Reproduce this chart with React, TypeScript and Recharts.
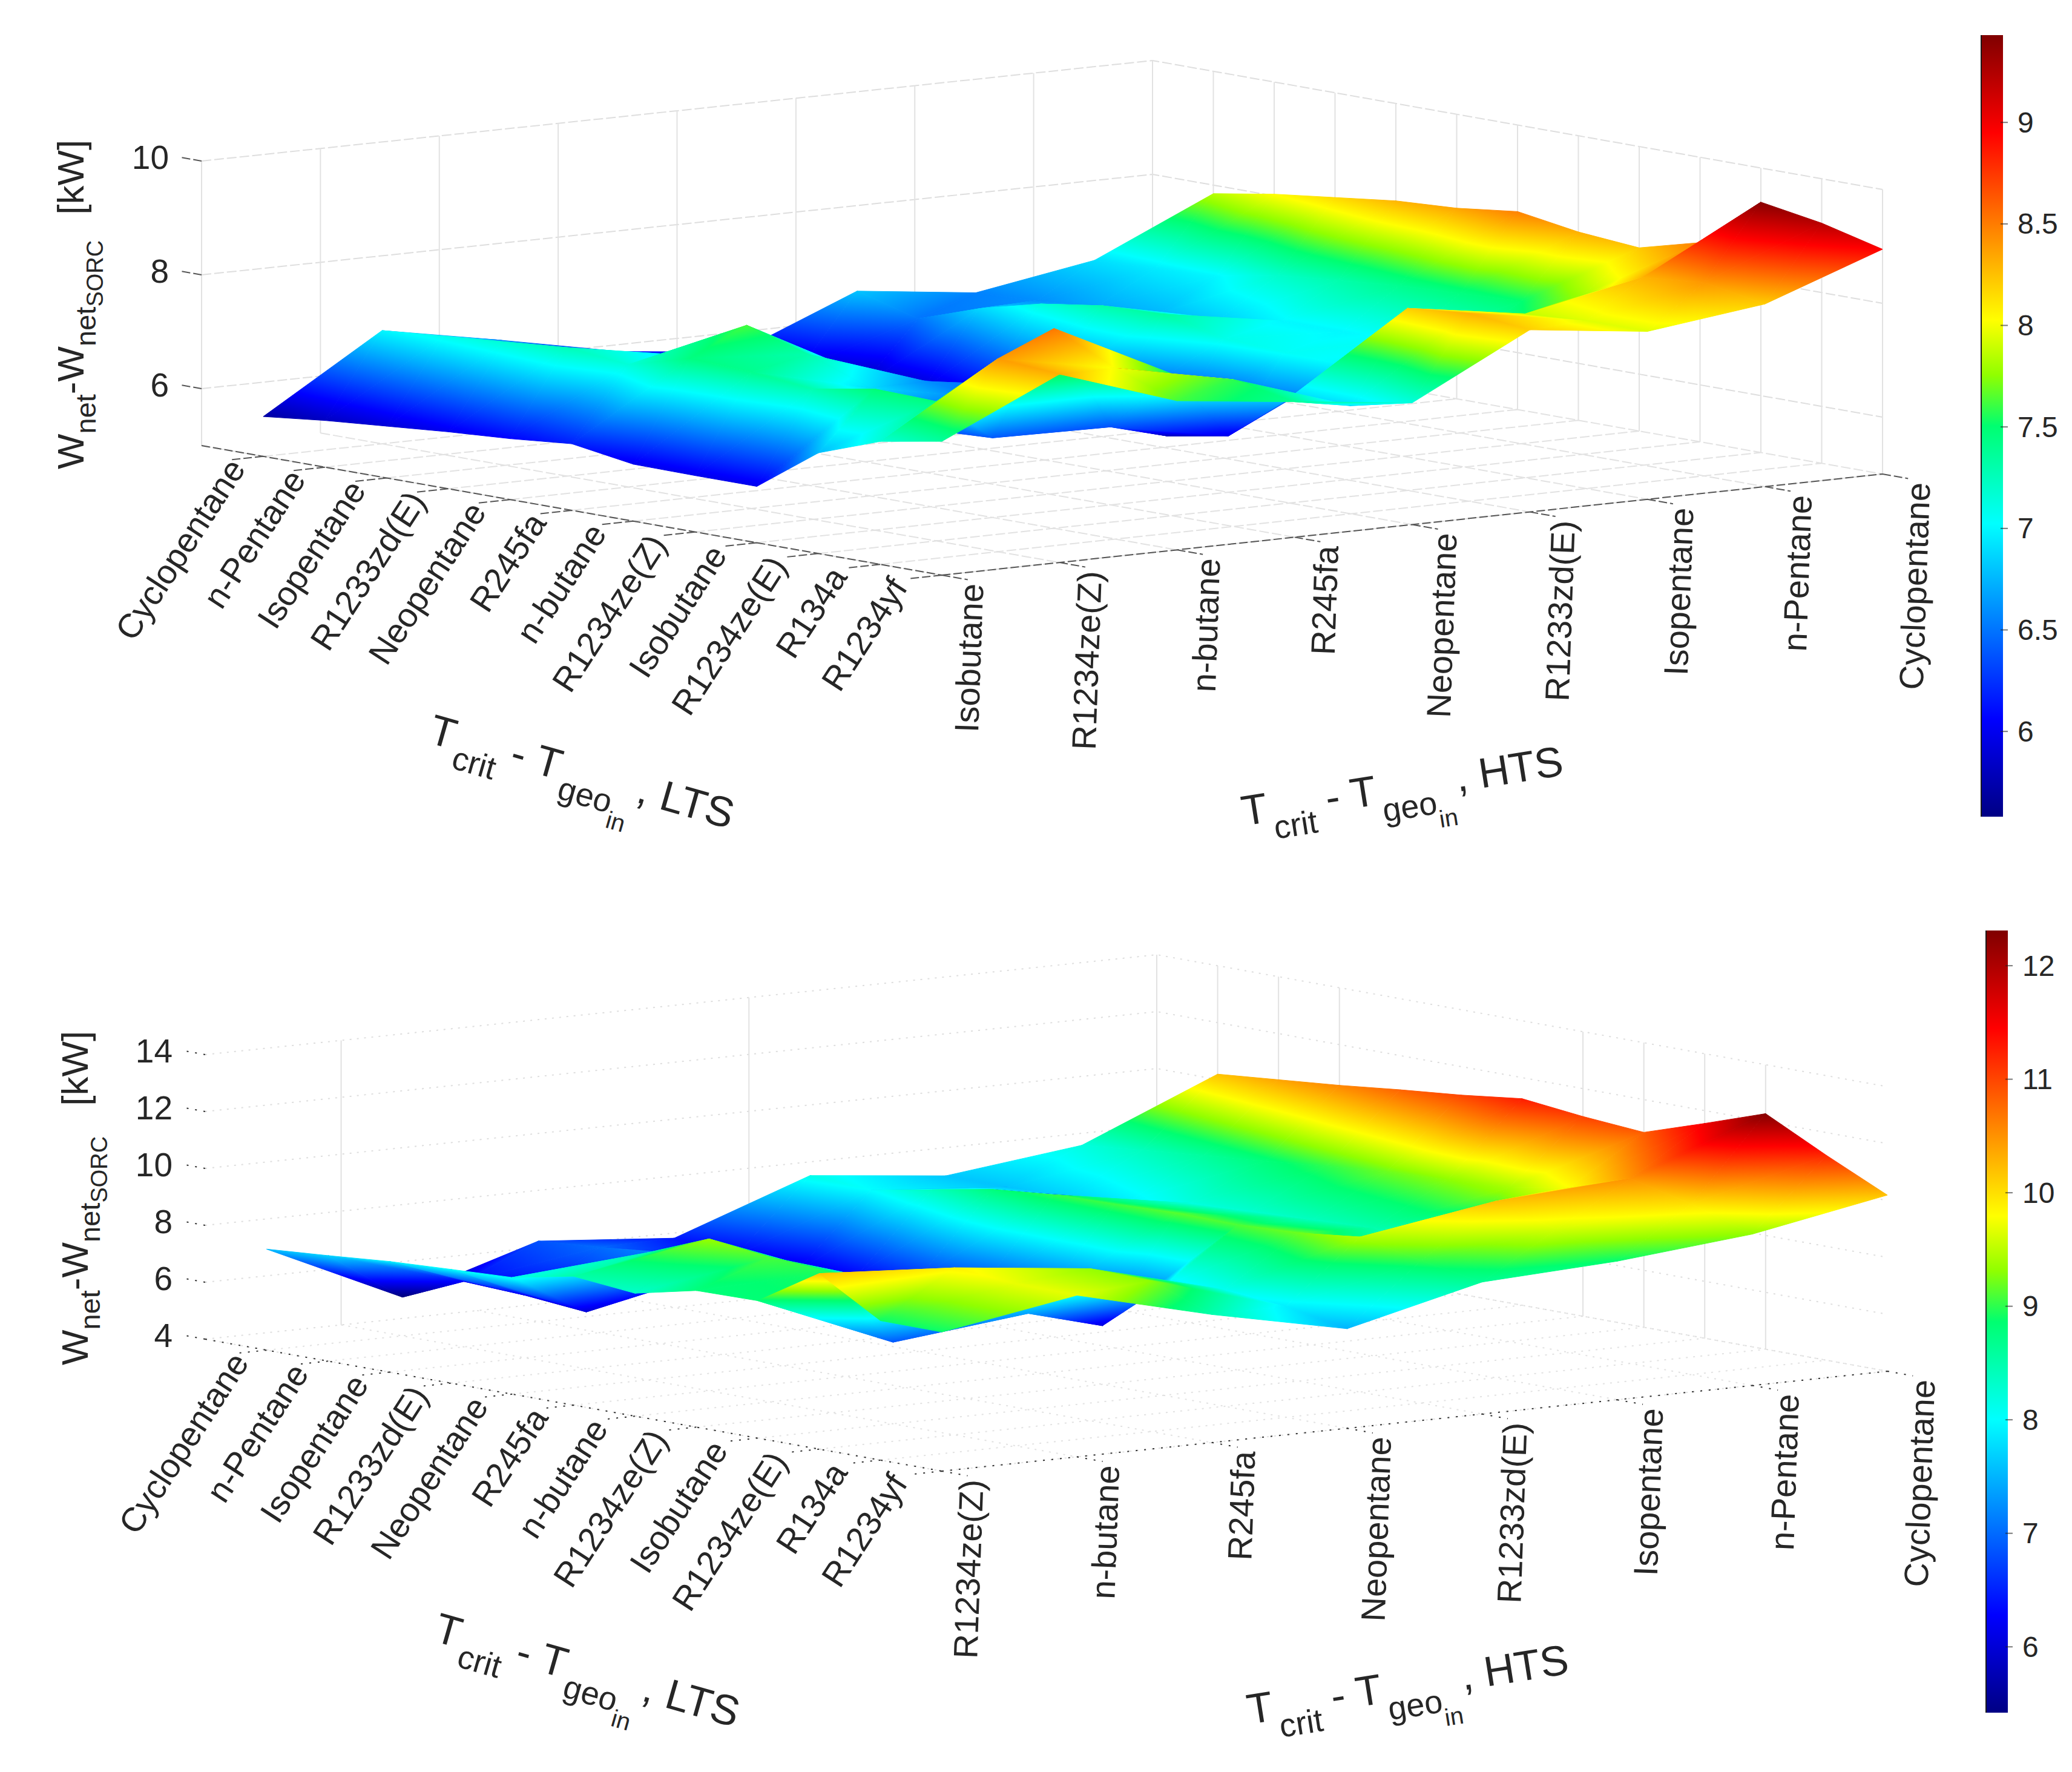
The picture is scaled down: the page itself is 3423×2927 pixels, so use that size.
import { ComposedChart, Scatter, Line, Bar, XAxis, YAxis } from "recharts";

const PAGE_W = 3423;
const PAGE_H = 2927;

const ltsFluids = ["Cyclopentane", "n-Pentane", "Isopentane", "R1233zd(E)", "Neopentane", "R245fa", "n-butane", "R1234ze(Z)", "Isobutane", "R1234ze(E)", "R134a", "R1234yf"];
const htsFluidsTop = ["Isobutane", "R1234ze(Z)", "n-butane", "R245fa", "Neopentane", "R1233zd(E)", "Isopentane", "n-Pentane", "Cyclopentane"];
const htsFluidsBottom = ["R1234ze(Z)", "n-butane", "R245fa", "Neopentane", "R1233zd(E)", "Isopentane", "n-Pentane", "Cyclopentane"];

// rows follow ltsFluids, columns follow the hts list, values in kW
const gainTop = [
  [5.7, 6.99, 6.6, 6.18, 5.95, 6.8, 6.55, 6.9, 7.85],
  [5.82, 7.08, 6.55, 6.24, 5.85, 6.5, 6.6, 6.95, 8.03],
  [5.91, 7.17, 6.5, 6.4, 5.72, 6.87, 6.7, 7.0, 8.16],
  [6.0, 7.26, 6.9, 6.75, 5.85, 7.14, 6.75, 7.2, 8.29],
  [6.07, 7.15, 7.62, 6.53, 6.1, 7.3, 6.85, 7.3, 8.35],
  [6.17, 7.45, 7.3, 6.6, 6.3, 7.34, 7.0, 7.4, 8.48],
  [6.0, 7.4, 6.9, 6.5, 6.0, 7.1, 7.0, 7.45, 8.31],
  [5.99, 7.29, 6.35, 6.38, 5.8, 7.05, 7.05, 7.5, 8.22],
  [5.99, 7.48, 6.4, 6.37, 5.99, 7.0, 7.2, 7.8, 8.5],
  [6.77, 7.45, 8.51, 7.49, 6.85, 8.2, 7.88, 8.3, 9.4],
  [7.16, 8.39, 8.0, 7.58, 6.9, 8.3, 7.95, 8.4, 9.22],
  [7.35, 8.31, 7.62, 7.38, 7.14, 8.2, 7.95, 8.21, 8.95],
];

const gainBottom = [
  [7.55, 5.36, 6.83, 6.43, 8.13, 7.62, 8.19, 10.19],
  [7.71, 6.3, 7.0, 6.2, 8.0, 7.6, 8.4, 10.38],
  [7.89, 6.2, 7.2, 6.04, 8.4, 7.7, 8.6, 10.57],
  [8.0, 6.0, 7.0, 6.3, 8.8, 7.9, 8.8, 10.8],
  [8.1, 8.47, 7.3, 6.6, 9.0, 8.2, 9.0, 11.0],
  [8.53, 9.34, 7.5, 6.6, 9.05, 8.3, 9.2, 11.26],
  [8.32, 9.08, 7.6, 6.6, 9.13, 8.4, 9.3, 11.02],
  [8.8, 8.94, 7.8, 6.06, 9.1, 8.5, 9.4, 10.85],
  [8.83, 6.87, 7.38, 7.85, 9.2, 8.2, 9.8, 11.55],
  [10.17, 9.87, 9.34, 8.1, 9.45, 10.2, 10.5, 12.28],
  [8.9, 9.7, 9.3, 7.9, 9.0, 9.6, 10.0, 11.2],
  [8.89, 9.68, 8.5, 7.5, 8.64, 8.87, 9.32, 10.19],
];

const zTicksTop = [6, 8, 10];
const zTicksBottom = [4, 6, 8, 10, 12, 14];
const barTicksTop = [6, 6.5, 7, 7.5, 8, 8.5, 9];
const barTicksBottom = [6, 7, 8, 9, 10, 11, 12];

const jetStops = [
  [0, "#000084"],
  [0.125, "#0000ff"],
  [0.375, "#00ffff"],
  [0.5, "#00ff70"],
  [0.565, "#90ff00"],
  [0.635, "#ffff00"],
  [0.875, "#ff0000"],
  [1, "#800000"],
] as const;

function jetColor(t: number) {
  const c = Math.max(0, Math.min(1, t));
  for (let k = 1; k < jetStops.length; k++) {
    if (c <= jetStops[k][0]) {
      const f = (c - jetStops[k - 1][0]) / (jetStops[k][0] - jetStops[k - 1][0]);
      const a = jetStops[k - 1][1];
      const b = jetStops[k][1];
      const mix = (s: number) => Math.round(parseInt(a.slice(s, s + 2), 16) * (1 - f) + parseInt(b.slice(s, s + 2), 16) * f);
      return `rgb(${mix(1)},${mix(3)},${mix(5)})`;
    }
  }
  return jetStops[jetStops.length - 1][1];
}

const FONT = "'Liberation Sans', Arial, sans-serif";
const INK = "#262626";

type Pt = { x: number; y: number };
type Box = { L: Pt; F: Pt; R: Pt; B: Pt; zMin: number; zMax: number; kz: number };

const boxTop: Box = { L: { x: 333, y: 736 }, F: { x: 1556, y: 950 }, R: { x: 3110, y: 783 }, B: { x: 1904, y: 570 }, zMin: 5, zMax: 10, kz: 94 };
const boxBottom: Box = { L: { x: 339, y: 2212 }, F: { x: 1556, y: 2430 }, R: { x: 3118, y: 2265 }, B: { x: 1911, y: 2047 }, zMin: 4, zMax: 14, kz: 47 };

// the 3D box is flattened by hand, the chart axes then work in page pixels
function project(b: Box, u: number, v: number, z: number): Pt {
  const w = [(1 - u) * (1 - v), u * (1 - v), u * v, (1 - u) * v];
  return {
    x: w[0] * b.L.x + w[1] * b.F.x + w[2] * b.R.x + w[3] * b.B.x,
    y: w[0] * b.L.y + w[1] * b.F.y + w[2] * b.R.y + w[3] * b.B.y - (z - b.zMin) * b.kz,
  };
}

function buildCells(b: Box, rows: number[][]) {
  const nI = rows.length;
  const nJ = rows[0].length;
  const at = (i: number, j: number) => ({
    ...project(b, (i + 1) / nI, j / (nJ - 1), rows[i][j]),
    z: rows[i][j],
  });
  const cells = [];
  for (let i = 0; i < nI - 1; i++) {
    for (let j = nJ - 2; j >= 0; j--) {
      const p = at(i, j);
      cells.push({ x: p.x, y: p.y, key: `${i}-${j}`, a: p, b: at(i + 1, j), c: at(i + 1, j + 1), d: at(i, j + 1) });
    }
  }
  return cells;
}

function gridSegments(b: Box, nI: number, nJ: number, wallJ: number[], wallI: number[]) {
  const floor: any[] = [];
  const upright: any[] = [];
  const gap = (p: Pt) => ({ x: p.x, y: null });
  const seg = (list: any[], p: Pt, q: Pt) => list.push(p, q, gap(q));
  for (let j = 0; j < nJ; j++) seg(floor, project(b, 0, j / (nJ - 1), b.zMin), project(b, 1, j / (nJ - 1), b.zMin));
  for (let i = 0; i < nI; i++) seg(floor, project(b, (i + 1) / nI, 0, b.zMin), project(b, (i + 1) / nI, 1, b.zMin));
  for (const j of wallJ) seg(upright, project(b, 0, j / (nJ - 1), b.zMin), project(b, 0, j / (nJ - 1), b.zMax));
  for (const i of wallI) seg(upright, project(b, (i + 1) / nI, 1, b.zMin), project(b, (i + 1) / nI, 1, b.zMax));
  return { floor, upright };
}

function wallLines(b: Box, ticks: number[]) {
  const out: any[] = [];
  for (const z of ticks) {
    const p = project(b, 0, 0, z);
    const m = project(b, 0, 1, z);
    const q = project(b, 1, 1, z);
    out.push(p, m, q, { x: q.x, y: null });
  }
  return out;
}

function axisLines(b: Box, nI: number, nJ: number, ticks: number[]) {
  const out: any[] = [];
  const seg = (p: Pt, q: Pt) => out.push(p, q, { x: q.x, y: null });
  seg(project(b, 0, 0, b.zMin), project(b, 1, 0, b.zMin));
  seg(project(b, 1, 0, b.zMin), project(b, 1, 1, b.zMin));
  for (let i = 0; i < nI; i++) seg(project(b, (i + 1) / nI, 0, b.zMin), project(b, (i + 1) / nI, -0.035, b.zMin));
  for (let j = 0; j < nJ; j++) seg(project(b, 1, j / (nJ - 1), b.zMin), project(b, 1.035, j / (nJ - 1), b.zMin));
  for (const z of ticks) seg(project(b, 0, 0, z), project(b, -0.03, 0, z));
  return out;
}

const SurfaceCell = (props: any) => {
  const { cx, cy, payload, cMin, cMax, prefix } = props;
  const { a, b, c, d, key, x, y } = payload;
  const shift = (p: any) => ({ x: cx + p.x - x, y: cy + p.y - y, z: p.z });
  const tris = [
    [shift(d), shift(a), shift(b)],
    [shift(d), shift(b), shift(c)],
  ];
  return (
    <g>
      {tris.map((t, n) => {
        const [p, q, r] = t;
        const det = (q.x - p.x) * (r.y - p.y) - (q.y - p.y) * (r.x - p.x);
        const gx = Math.abs(det) < 1 ? 0 : ((q.z - p.z) * (r.y - p.y) - (r.z - p.z) * (q.y - p.y)) / det;
        const gy = Math.abs(det) < 1 ? 0 : ((r.z - p.z) * (q.x - p.x) - (q.z - p.z) * (r.x - p.x)) / det;
        const mag = gx * gx + gy * gy;
        const points = t.map((v) => `${v.x},${v.y}`).join(" ");
        if (mag < 1e-9) {
          const col = jetColor(((p.z + q.z + r.z) / 3 - cMin) / (cMax - cMin));
          return <polygon key={n} points={points} fill={col} stroke={col} strokeWidth={1} />;
        }
        const id = `${prefix}-${key}-${n}`;
        const s0 = (cMin - p.z) / mag;
        const s1 = (cMax - p.z) / mag;
        return (
          <g key={n}>
            <linearGradient id={id} href={`#${prefix}-jet`} gradientUnits="userSpaceOnUse" x1={p.x + gx * s0} y1={p.y + gy * s0} x2={p.x + gx * s1} y2={p.y + gy * s1} />
            <polygon points={points} fill={`url(#${id})`} stroke={`url(#${id})`} strokeWidth={1} />
          </g>
        );
      })}
    </g>
  );
};

const TickText = (props: any) => {
  const { cx, cy, payload } = props;
  return (
    <text x={cx} y={cy} fontSize={payload.size} fontFamily={FONT} fill={INK} textAnchor="end" dominantBaseline="central" transform={`rotate(${payload.angle} ${cx} ${cy})`}>
      {payload.label}
    </text>
  );
};

function tickTexts(b: Box, hts: string[], ticks: number[]) {
  const out: any[] = [];
  ltsFluids.forEach((label, i) => {
    const p = project(b, (i + 1) / ltsFluids.length, 0, b.zMin);
    out.push({ x: p.x - 44 - 2.5 * i, y: p.y + 10, label, angle: -57, size: 56 });
  });
  hts.forEach((label, j) => {
    const p = project(b, 1, j / (hts.length - 1), b.zMin);
    out.push({ x: p.x + 49 + (10 * j) / (hts.length - 1), y: p.y + 14, label, angle: -88, size: 56 });
  });
  ticks.forEach((z) => {
    const p = project(b, 0, 0, z);
    out.push({ x: p.x - 54, y: p.y - 6, label: String(z), angle: 0, size: 55 });
  });
  return out;
}

const AxisTitle = ({ x, y, angle, tail }: { x: number; y: number; angle: number; tail: string }) => (
  <text transform={`translate(${x} ${y}) rotate(${angle})`} fontSize={70} fontFamily={FONT} fill={INK} xmlSpace="preserve">
    T
    <tspan dy={30} dx={6} fontSize={54}>crit</tspan>
    <tspan dy={-30}> - T</tspan>
    <tspan dy={30} dx={6} fontSize={54}>geo</tspan>
    <tspan dy={24} fontSize={40}>in</tspan>
    <tspan dy={-54} dx={6}>, {tail}</tspan>
  </text>
);

const PowerTitle = ({ x, y, gap }: { x: number; y: number; gap: number }) => (
  <text transform={`translate(${x} ${y}) rotate(-90)`} fontSize={62} fontFamily={FONT} fill={INK}>
    W
    <tspan dy={20} fontSize={47}>net</tspan>
    <tspan dy={-20}>-W</tspan>
    <tspan dy={20} fontSize={47}>net</tspan>
    <tspan dy={12} fontSize={38}>SORC</tspan>
    <tspan dy={-32} dx={gap}>[kW]</tspan>
  </text>
);

function Panel(props: { box: Box; rows: number[][]; hts: string[]; zTicks: number[]; cMin: number; cMax: number; prefix: string; wallJ: number[]; wallI: number[]; dash: string; axisDash: string; axisColor: string; titleDy: number; titleDx: number; gap: number; powerX: number; powerY: number }) {
  const { box, rows, hts, zTicks, cMin, cMax, prefix, wallJ, wallI } = props;
  const cells = buildCells(box, rows);
  const { floor, upright } = gridSegments(box, rows.length, hts.length, wallJ, wallI);
  const walls = wallLines(box, zTicks);
  const axes = axisLines(box, rows.length, hts.length, zTicks);
  const texts = tickTexts(box, hts, zTicks);
  return (
    <div style={{ position: "absolute", left: 0, top: 0 }}>
      <ComposedChart width={PAGE_W} height={PAGE_H} margin={{ top: 0, right: 0, bottom: 0, left: 0 }}>
        <defs>
          <linearGradient id={`${prefix}-jet`}>
            {jetStops.map(([o, c]) => (
              <stop key={o} offset={o} stopColor={c} />
            ))}
          </linearGradient>
        </defs>
        <XAxis hide type="number" dataKey="x" domain={[0, PAGE_W]} />
        <YAxis hide reversed type="number" dataKey="y" domain={[0, PAGE_H]} />
        <Line data={floor} dataKey="y" dot={false} stroke="#e2e2e2" strokeWidth={2} strokeDasharray={props.dash} isAnimationActive={false} legendType="none" />
        <Line data={walls} dataKey="y" dot={false} stroke="#dedede" strokeWidth={2} strokeDasharray={props.dash} isAnimationActive={false} legendType="none" />
        <Line data={upright} dataKey="y" dot={false} stroke="#e2e2e2" strokeWidth={2} isAnimationActive={false} legendType="none" />
        <Line data={axes} dataKey="y" dot={false} stroke={props.axisColor} strokeWidth={2} strokeDasharray={props.axisDash} isAnimationActive={false} legendType="none" />
        <Scatter data={cells} isAnimationActive={false} shape={(p: any) => <SurfaceCell {...p} cMin={cMin} cMax={cMax} prefix={prefix} />} />
        <Scatter data={texts} isAnimationActive={false} shape={(p: any) => <TickText {...p} />} />
        <AxisTitle x={705 + props.titleDx} y={1226 + props.titleDy} angle={16} tail="LTS" />
        <AxisTitle x={2055 + props.titleDx} y={1364 + props.titleDy} angle={-9} tail="HTS" />
        <PowerTitle x={props.powerX} y={props.powerY} gap={props.gap} />
      </ComposedChart>
    </div>
  );
}

const BarTick = (props: any) => {
  const { x, y, payload } = props;
  return (
    <g>
      <line x1={x - 12} x2={x} y1={y} y2={y} stroke="#222" strokeOpacity={0.6} strokeWidth={2} />
      <text x={x + 16} y={y} fontSize={48} fontFamily={FONT} fill={INK} dominantBaseline="central">
        {payload.value}
      </text>
    </g>
  );
};

function ColorBar({ left, top, height, cMin, cMax, ticks, id }: { left: number; top: number; height: number; cMin: number; cMax: number; ticks: number[]; id: string }) {
  const data = [{ name: "kW", range: [cMin, cMax] }];
  return (
    <div style={{ position: "absolute", left, top }}>
      <ComposedChart width={152} height={height} data={data} margin={{ top: 0, right: 0, bottom: 0, left: 0 }} barCategoryGap={0}>
        <defs>
          <linearGradient id={id} x1={0} y1={1} x2={0} y2={0}>
            {jetStops.map(([o, c]) => (
              <stop key={o} offset={o} stopColor={c} />
            ))}
          </linearGradient>
        </defs>
        <XAxis hide dataKey="name" />
        <YAxis yAxisId="edge" orientation="left" width={2} domain={[cMin, cMax]} tick={false} tickLine={false} axisLine={{ stroke: "#1a1a1a", strokeWidth: 2 }} />
        <YAxis yAxisId="v" orientation="right" width={114} domain={[cMin, cMax]} ticks={ticks} axisLine={false} tickLine={false} tick={(p: any) => <BarTick {...p} />} interval={0} />
        <Bar yAxisId="v" dataKey="range" fill={`url(#${id})`} isAnimationActive={false} />
      </ComposedChart>
    </div>
  );
}

export default function App() {
  return (
    <div style={{ position: "absolute", left: 0, top: 0, width: PAGE_W, height: PAGE_H, background: "#fff", overflow: "hidden" }}>
      <Panel box={boxTop} rows={gainTop} hts={htsFluidsTop} zTicks={zTicksTop} cMin={5.58} cMax={9.43} prefix="top" wallJ={[0, 1, 2, 3, 4, 5, 6, 7, 8]} wallI={[-1, 0, 1, 2, 3, 4, 5, 6, 7, 8, 9, 10, 11]} dash="16 5" axisDash="14 5" axisColor="#555" titleDx={0} titleDy={0} gap={42} powerX={138} powerY={775} />
      <Panel box={boxBottom} rows={gainBottom} hts={htsFluidsBottom} zTicks={zTicksBottom} cMin={5.42} cMax={12.31} prefix="bot" wallJ={[1, 4, 7]} wallI={[0, 1, 2, 6, 7, 8, 9]} dash="3 9" axisDash="3 11" axisColor="#333" titleDx={9} titleDy={1484} gap={50} powerX={145} powerY={2255} />
      <ColorBar left={3271} top={58} height={1291} cMin={5.58} cMax={9.43} ticks={barTicksTop} id="barTop" />
      <ColorBar left={3279} top={1537} height={1292} cMin={5.42} cMax={12.31} ticks={barTicksBottom} id="barBottom" />
    </div>
  );
}
